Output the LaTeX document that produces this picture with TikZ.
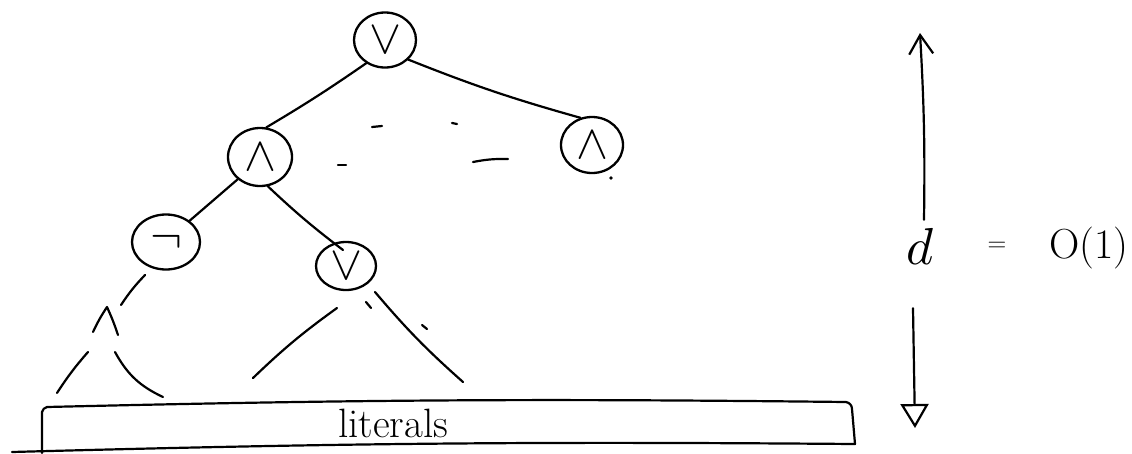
\documentclass[tikz,border=0pt]{standalone}
\usepackage{fontspec}
\usetikzlibrary{shapes.geometric,arrows.meta,calc}
\newcommand{\bigsym}[1]{\scalebox{4.8}{$#1$}}
\begin{document}
\begin{tikzpicture}[x=1pt,y=-1pt,
  gate/.style={ellipse, draw, line width=2.3pt, inner sep=0pt,
    minimum width=62pt, minimum height=55pt},
  wire/.style={line width=2.2pt, line cap=round, line join=round},
  lbl/.style={inner sep=0pt, font=\fontsize{42}{42}\selectfont}]
\useasboundingbox (0,0) rectangle (1132,453);

% gates
\node[gate] (root) at (385,40) {\bigsym{\vee}};
\node[gate, minimum width=64pt, minimum height=58pt] (andL) at (260,157) {\bigsym{\wedge}};
\node[gate, minimum height=56pt] (andR) at (592,145) {\bigsym{\wedge}};
\node[gate, minimum width=68pt, minimum height=55pt] (not) at (166,242) {\bigsym{\neg}};
\node[gate, minimum width=60pt, minimum height=48pt] (veeL) at (346,266) {\bigsym{\vee}};

% edges
\draw[wire] (root.231) to[bend left=2] (andL.78);
\draw[wire] (root.-40) to[bend left=-3] (andR.113);
\draw[wire] (andL.225) to (not.42);
\draw[wire] (andL.-75) to[bend left=-3] ($(veeL.center)+(-3,-16)$);

% dots suggesting more of the tree
\draw[wire] (372,127) -- (382,126);
\draw[wire] (452,123) -- (457,124);
\draw[wire] (338,165) -- (346,165);
\draw[wire] (473,162) to[bend left=6] (508,159);
\fill (611,178) circle (1.8pt);

% partial subtrees below the not gate
\coordinate (n1) at (145,275);
\coordinate (n2) at (121,305);
\draw[wire] (n1) to[bend left=-5] (n2);
\coordinate (w1) at (93,332);
\coordinate (wt) at (107,307);
\coordinate (w2) at (118,335);
\draw[wire] (w1) to[bend left=4] (wt) to[bend left=3] (w2);
\coordinate (a1) at (88,352);
\coordinate (a2) at (57,393);
\draw[wire] (a1) to[bend left=-4] (a2);
\coordinate (b1) at (115,352);
\coordinate (b2) at (163,397);
\draw[wire] (b1) to[bend right=18] (b2);

% partial subtrees below the lower or gate
\coordinate (c1) at (337,308);
\coordinate (c2) at (253,378);
\draw[wire] (c1) to[bend left=-4] (c2);
\draw[wire] (366,302) -- (371,308);
\coordinate (d1) at (375,292);
\coordinate (d2) at (463,382);
\draw[wire] (d1) to[bend left=-4] (d2);
\draw[wire] (422,325) -- (427,329);

% literals box
\node[inner sep=0pt, font=\fontsize{41}{41}\selectfont] (lits) at (393,423) {literals};
\draw[wire] (42,453) -- (42,412) to[bend left=30] (47,407)
  to[bend left=1] (846,402) to[bend left=40] (852,409) -- (855,444)
  to[bend left=-1] (12,452);

% depth arrows and label
\node[inner sep=0pt] (d) at (920,246) {\scalebox{5.2}{$d$}};
\node[inner sep=0pt, font=\fontsize{26}{26}\selectfont] (eq) at (997,247) {=};
\node[lbl] (O) at (1089,248) {O(1)};
\coordinate (upTop) at (920,33);
\coordinate (dnBot) at (915,428);
\draw[wire, -{Straight Barb[length=19pt,width=24pt,line width=2.2pt]}]
  ($(d.north)+(4,-8)$) to[bend left=-2] (upTop);
\draw[wire, -{Triangle[open,length=24pt,width=28pt,line width=2.2pt]}]
  ($(d.south)+(-7,44)$) to (dnBot);
\end{tikzpicture}
\end{document}
